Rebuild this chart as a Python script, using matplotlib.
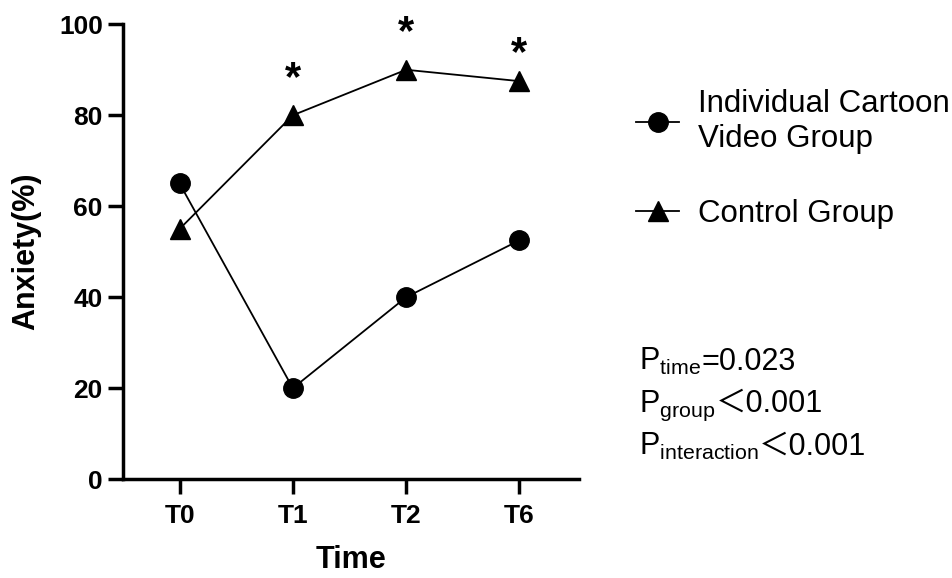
import matplotlib
matplotlib.use("Agg")
import matplotlib.pyplot as plt

plt.rcParams['font.family'] = ['Liberation Sans', 'Noto Sans CJK SC', 'DejaVu Sans']
plt.rcParams['mathtext.fontset'] = 'custom'
plt.rcParams['mathtext.rm'] = 'Liberation Sans'
plt.rcParams['mathtext.it'] = 'Liberation Sans'

time_points = ["T0", "T1", "T2", "T6"]
cartoon_group = [65, 20, 40, 52.5]
control_group = [55, 80, 90, 87.5]
star_points = ["T1", "T2", "T6"]
star_heights = [88, 98, 93.5]
p_labels = ["time", "group", "interaction"]
p_values = ["=0.023", "＜0.001", "＜0.001"]

fig = plt.figure(figsize=(9.53, 5.78), dpi=100)
ax = fig.add_axes([0.129, 0.171, 0.479, 0.787])

x = list(range(len(time_points)))
ax.plot(x, cartoon_group, color='black', lw=1.3, marker='o', markersize=14,
        label="Individual Cartoon\nVideo Group", clip_on=False)
ax.plot(x, control_group, color='black', lw=1.3, marker='^', markersize=14,
        label="Control Group", clip_on=False)

for name, h in zip(star_points, star_heights):
    ax.text(time_points.index(name), h, "*", ha='center', va='center',
            fontsize=30, fontweight='bold')

ax.set_xlim(-0.5, 3.53)
ax.set_ylim(0, 100)
ax.set_yticks([0, 20, 40, 60, 80, 100])
ax.set_xticks(x)
ax.set_xticklabels(time_points)
for s in ['top', 'right']:
    ax.spines[s].set_visible(False)
for s in ['left', 'bottom']:
    ax.spines[s].set_linewidth(2.5)
ax.tick_params(width=2.5, length=11, labelsize=19)
ax.tick_params(axis='x', pad=7)
for lbl in ax.get_xticklabels() + ax.get_yticklabels():
    lbl.set_fontweight('bold')
ax.set_xlabel("Time", fontsize=22, fontweight='bold', labelpad=12)
ax.set_ylabel("Anxiety(%)", fontsize=22, fontweight='bold', labelpad=13)

fig.legend(loc='upper left', bbox_to_anchor=(0.667, 0.846), frameon=False,
           fontsize=22.5, handlelength=1.4, labelspacing=1.45, handletextpad=0.6,
           borderpad=0, borderaxespad=0)

base_y = [0.360, 0.287, 0.213]
for lab, val, y in zip(p_labels, p_values, base_y):
    t = fig.text(0.671, y, r"P$_{\mathregular{%s}}$" % lab, fontsize=22, va='baseline')
    ax.annotate(val, xy=(1, y), xycoords=(t, 'figure fraction'),
                fontsize=22, va='baseline', ha='left', annotation_clip=False)

fig.savefig("out.png", dpi=100)
